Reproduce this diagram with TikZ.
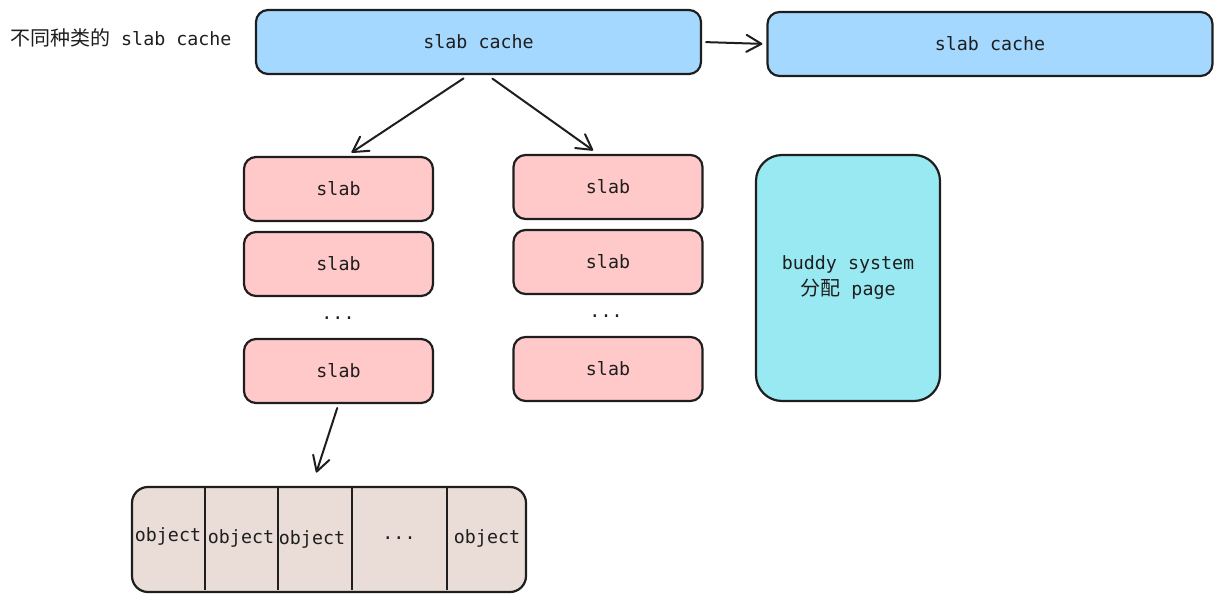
\documentclass[tikz,border=0pt]{standalone}
\usepackage{fontspec}
\setmainfont{DejaVu Sans Mono}
\newfontfamily\cjk{Noto Sans CJK SC}
\usetikzlibrary{arrows.meta}

\definecolor{ink}{HTML}{1E1E1E}
\definecolor{cacheblue}{HTML}{A5D8FF}
\definecolor{slabpink}{HTML}{FFC9C9}
\definecolor{buddycyan}{HTML}{99E9F2}
\definecolor{objbrown}{HTML}{EADDD7}

\tikzset{
  box/.style={draw=ink, line width=2.2pt, rounded corners=12pt, inner sep=0pt,
    font=\fontsize{18.3}{26}\selectfont, text=ink},
  cachebox/.style={box, fill=cacheblue, minimum width=445pt, minimum height=64pt},
  slabbox/.style={box, fill=slabpink, minimum width=189pt, minimum height=64pt},
  buddybox/.style={box, fill=buddycyan, rounded corners=26pt, minimum width=184pt,
    minimum height=246pt, align=center},
  objbox/.style={box, fill=objbrown, rounded corners=16pt, minimum width=394pt,
    minimum height=105pt},
  lbl/.style={font=\fontsize{18.3}{26}\selectfont, text=ink, inner sep=0pt},
  arr/.style={draw=ink, line width=2pt, line cap=round,
    -{Straight Barb[length=15pt,width=17pt,round]}},
}

\begin{document}
\begin{tikzpicture}[x=1pt,y=-1pt]
\useasboundingbox (0,0) rectangle (1222,602);
% caches
\node[lbl, anchor=west] (title) at (10,38) {{\cjk\fontsize{20}{26}\selectfont 不同种类的} slab cache};
\node[cachebox] (cacheA) at (478.5,42) {slab cache};
\node[cachebox] (cacheB) at (990,44) {slab cache};
\draw[arr, shorten <=4pt, shorten >=4pt] (cacheA.east) -- (cacheB.west);
% slabs
\node[slabbox] (slabL1) at (338.5,189) {slab};
\node[slabbox] (slabL2) at (338.5,264) {slab};
\node[lbl] (dotsL) at (338,318) {...};
\node[slabbox] (slabL3) at (338.5,371) {slab};
\node[slabbox] (slabR1) at (608,187) {slab};
\node[slabbox] (slabR2) at (608,262) {slab};
\node[lbl] (dotsR) at (606,316) {...};
\node[slabbox] (slabR3) at (608,369) {slab};
\draw[arr, shorten <=6pt, shorten >=6pt] ([xshift=-10pt]cacheA.south) -- ([xshift=8pt]slabL1.north);
\draw[arr, shorten <=6pt, shorten >=6pt] ([xshift=9pt]cacheA.south) -- ([xshift=-10pt]slabR1.north);
% buddy system
\node[buddybox] (buddy) at (848,278) {buddy system\\{\cjk\fontsize{20}{26}\selectfont 分配} page};
% objects
\node[objbox] (objs) at (329,539.5) {};
\foreach \x in {205,278,352,447}
  \draw[draw=ink, line width=2.2pt] (\x,486) -- (\x,590);
\node[lbl] (objA) at (168,536) {object};
\node[lbl] (objB) at (241,538) {object};
\node[lbl] (objC) at (312,539) {object};
\node[lbl] (objD) at (399,538) {...};
\node[lbl] (objE) at (487,538) {object};
\draw[arr, shorten <=4pt, shorten >=14pt] (slabL3.south) -- ([xshift=-17pt]objs.north);
\end{tikzpicture}
\end{document}
